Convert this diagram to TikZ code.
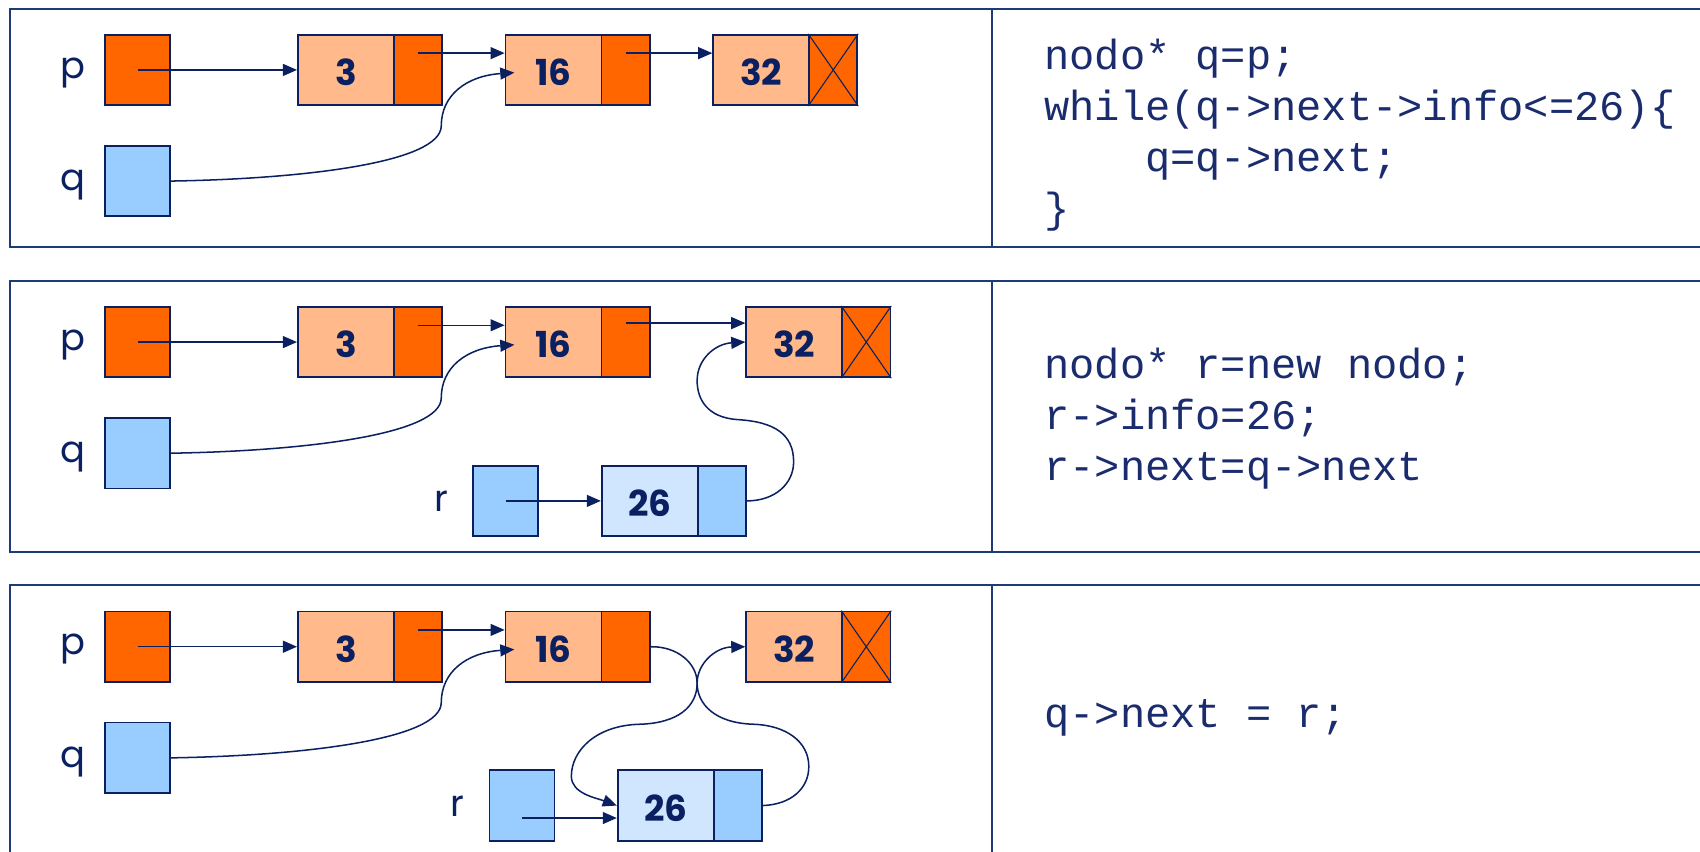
\documentclass[tikz,border=0pt]{standalone}
\usepackage{fontspec}
\setmainfont{Poppins}
\setmonofont{Liberation Mono}
\usetikzlibrary{arrows.meta}
\definecolor{navy}{HTML}{0A2060}
\definecolor{framec}{HTML}{1F3A78}
\definecolor{orng}{HTML}{FF6600}
\definecolor{peach}{HTML}{FFB98A}
\definecolor{lblue}{HTML}{99CCFF}
\definecolor{vlblue}{HTML}{D0E6FF}
\definecolor{codec}{HTML}{1A2C6E}
\begin{document}
\begin{tikzpicture}[x=1pt,y=-1pt,
  cell/.style={draw=navy,line width=1.6pt,inner sep=0pt,minimum height=65pt},
  varbox/.style={cell,minimum width=60pt},
  infobox/.style={cell,minimum width=88.5pt,font=\fontsize{33}{34}\selectfont\bfseries,text=navy,text height=29pt,text depth=0pt},
  nextbox/.style={cell,minimum width=44.5pt},
  varlabel/.style={anchor=base,text=navy,font=\fontsize{34}{36}\selectfont,inner sep=0pt},
  code/.style={anchor=base west,text=codec,font=\ttfamily\fontsize{38.8}{47}\selectfont,inner sep=0pt},
  arr/.style={draw=navy,line width=1.4pt,-{Triangle[length=13pt,width=11pt]}},
  panel/.style={draw=framec,line width=1.8pt}
]
\useasboundingbox (0,0) rectangle (1568,785);
% frames
\draw[panel] (9,8) rectangle (1600,228);
\draw[panel] (915,8) -- (915,228);
\draw[panel] (9,259) rectangle (1600,509);
\draw[panel] (915,259) -- (915,509);
\draw[panel] (9,540) rectangle (1600,820);
\draw[panel] (915,540) -- (915,820);

% ---------- panel 1 ----------
\begin{scope}
\node[varlabel] (lpa) at (67.5,72) {p};
\node[varlabel] (lqa) at (67.5,176) {q};
\node[varbox,fill=orng] (pba) at (127,64.5) {};
\node[varbox,fill=lblue] (qba) at (127,167) {};
\node[infobox,fill=peach] (n3ia) at (319,64.5) {3};
\node[nextbox,fill=orng] (n3pa) at (385.5,64.5) {};
\node[infobox,fill=peach] (n16ia) at (510.5,64.5) {16};
\node[nextbox,fill=orng] (n16pa) at (577,64.5) {};
\node[infobox,fill=peach] (n32ia) at (702,64.5) {32};
\node[nextbox,fill=orng] (n32pa) at (768.5,64.5) {};
\draw[navy,line width=1pt] (n32pa.north west) -- (n32pa.south east) (n32pa.north east) -- (n32pa.south west);
\draw[arr] (pba.center) -- (pba.center -| n3ia.west);
\coordinate (s1a) at ([yshift=15.5pt]n3pa.center);
\draw[arr] (s1a) -- (s1a -| n16ia.west);
\coordinate (s2a) at ([yshift=15.5pt]n16pa.center);
\draw[arr] (s2a) -- (s2a -| n32ia.west);
\coordinate (tqa) at ([xshift=9pt,yshift=-2.5pt]n16ia.west);
\draw[arr] (qba.east) .. controls (280,165) and (407,150) .. (407,116) .. controls (407,88) and (430,70) .. (tqa);
\end{scope}

% ---------- panel 2 ----------
\begin{scope}[shift={(0,251)}]
\node[varlabel] (lpb) at (67.5,72) {p};
\node[varlabel] (lqb) at (67.5,176) {q};
\node[varlabel] (lrb) at (407,221) {r};
\node[varbox,fill=orng] (pbb) at (127,64.5) {};
\node[varbox,fill=lblue] (qbb) at (127,167) {};
\node[infobox,fill=peach] (n3ib) at (319,64.5) {3};
\node[nextbox,fill=orng] (n3pb) at (385.5,64.5) {};
\node[infobox,fill=peach] (n16ib) at (510.5,64.5) {16};
\node[nextbox,fill=orng] (n16pb) at (577,64.5) {};
\node[infobox,fill=peach] (n32ib) at (732.5,64.5) {32};
\node[nextbox,fill=orng] (n32pb) at (799,64.5) {};
\draw[navy,line width=1pt] (n32pb.north west) -- (n32pb.south east) (n32pb.north east) -- (n32pb.south west);
\node[varbox,fill=lblue] (rbb) at (466.5,211) {};
\node[infobox,fill=vlblue] (n26ib) at (599.25,211) {26};
\node[nextbox,fill=lblue] (n26pb) at (665.75,211) {};
\draw[arr] (pbb.center) -- (pbb.center -| n3ib.west);
\coordinate (s1b) at ([yshift=15.5pt]n3pb.center);
\draw[arr] (s1b) -- (s1b -| n16ib.west);
\coordinate (s2b) at ([yshift=17.5pt]n16pb.center);
\draw[arr] (s2b) -- (s2b -| n32ib.west);
\coordinate (tqb) at ([xshift=9pt,yshift=-2.5pt]n16ib.west);
\draw[arr] (qbb.east) .. controls (280,165) and (407,150) .. (407,116) .. controls (407,88) and (430,70) .. (tqb);
\draw[arr] (rbb.center) -- (rbb.center -| n26ib.west);
\draw[arr] (n26pb.east) .. controls (715,211) and (732,195) .. (732,175) .. controls (732,150) and (715,138) .. (680,136) .. controls (652,134) and (643,117) .. (643,100) .. controls (643,80) and (660,66) .. (n32ib.west);
\end{scope}

% ---------- panel 3 ----------
\begin{scope}[shift={(0,532)}]
\node[varlabel] (lpc) at (67.5,72) {p};
\node[varlabel] (lqc) at (67.5,176) {q};
\node[varlabel] (lrc) at (422,221) {r};
\node[varbox,fill=orng] (pbc) at (127,64.5) {};
\node[varbox,fill=lblue] (qbc) at (127,167) {};
\node[infobox,fill=peach] (n3ic) at (319,64.5) {3};
\node[nextbox,fill=orng] (n3pc) at (385.5,64.5) {};
\node[infobox,fill=peach] (n16ic) at (510.5,64.5) {16};
\node[nextbox,fill=orng] (n16pc) at (577,64.5) {};
\node[infobox,fill=peach] (n32ic) at (732.5,64.5) {32};
\node[nextbox,fill=orng] (n32pc) at (799,64.5) {};
\draw[navy,line width=1pt] (n32pc.north west) -- (n32pc.south east) (n32pc.north east) -- (n32pc.south west);
\node[varbox,fill=lblue] (rbc) at (481.5,211) {};
\node[infobox,fill=vlblue] (n26ic) at (614,211) {26};
\node[nextbox,fill=lblue] (n26pc) at (680.5,211) {};
\draw[arr] (pbc.center) -- (pbc.center -| n3ic.west);
\coordinate (s1c) at ([yshift=15.5pt]n3pc.center);
\draw[arr] (s1c) -- (s1c -| n16ic.west);
\coordinate (tqc) at ([xshift=9pt,yshift=-2.5pt]n16ic.west);
\draw[arr] (qbc.east) .. controls (280,165) and (407,150) .. (407,116) .. controls (407,88) and (430,70) .. (tqc);
\coordinate (src) at ([yshift=-11.5pt]rbc.center);
\draw[arr] (src) -- (src -| n26ic.west);
\draw[arr] (n16pc.east) .. controls (625,64) and (643,80) .. (643,98) .. controls (643,120) and (625,135) .. (590,136) .. controls (550,137) and (527,160) .. (527,184) .. controls (527,200) and (550,204) .. (n26ic.west);
\draw[arr] (n26pc.east) .. controls (730,210) and (746,195) .. (746,175) .. controls (746,152) and (725,137) .. (695,136) .. controls (660,135) and (643,118) .. (643,98) .. controls (643,80) and (660,65) .. (n32ic.west);
\end{scope}

% ---------- code ----------
\node[code] (c1a) at (963,64) {nodo* q=p;};
\node[code] (c1b) at (963,111) {while(q->next->info<=26)\{};
\node[code] (c1c) at (1056,158) {q=q->next;};
\node[code] (c1d) at (963,205) {\}};
\node[code] (c2a) at (963,349) {nodo* r=new nodo;};
\node[code] (c2b) at (963,396) {r->info=26;};
\node[code] (c2c) at (963,443) {r->next=q->next};
\node[code] (c3a) at (963,670.6) {q->next = r;};
\end{tikzpicture}
\end{document}
